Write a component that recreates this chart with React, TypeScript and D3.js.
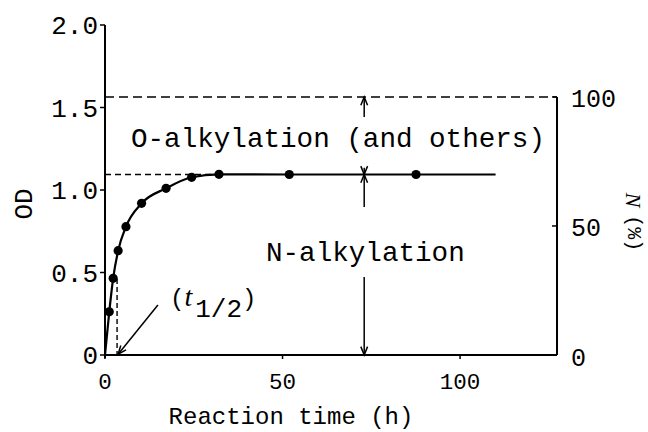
import React from 'react';
import * as d3 from 'd3';

// ---- data ----
const timeH = [1.2, 2.3, 3.7, 5.9, 10.3, 17.2, 24.4, 32.1, 51.9, 87.6];
const odValues = [0.262, 0.465, 0.632, 0.778, 0.919, 1.01, 1.077, 1.095, 1.094, 1.094];
const curveStart = { t: 0, od: 0 };
const curveEnd = { t: 110, od: 1.094 };
const odTicks = [0, 0.5, 1.0, 1.5, 2.0];
const odTickLabels = ['0', '0.5', '1.0', '1.5', '2.0'];
const timeTicks = [0, 50, 100];
const nTicks = [0, 50, 100];
const odTotal = 1.564; // OD corresponding to N = 100 %
const odPlateau = 1.094;
const tHalf = 3.4;
const tHalfTop = 0.46;
const tArrowLine = 73;
const tMax = 127.3;
// annotation arrow (t1/2) from label to axis
const halfArrowFrom = { t: 14.9, od: 0.303 };
const halfArrowTo = { t: 3.7, od: 0.005 };
// vertical double arrows, segments in OD units (gaps for labels)
const upperArrowTopEnd = 1.442;
const upperArrowBottomStart = 1.135;
const lowerArrowTopEnd = 0.897;
const lowerArrowBottomStart = 0.473;

const FONT = "'Liberation Mono', 'Courier New', monospace";

function arrowHead(x: number, y: number, angleDeg: number, len = 9, half = 22) {
  const a = (angleDeg * Math.PI) / 180;
  const h = (half * Math.PI) / 180;
  const x1 = x - len * Math.cos(a - h);
  const y1 = y - len * Math.sin(a - h);
  const x2 = x - len * Math.cos(a + h);
  const y2 = y - len * Math.sin(a + h);
  return `M${x1},${y1}L${x},${y}L${x2},${y2}`;
}

export default function App() {
  const W = 648;
  const H = 432;
  const x = d3.scaleLinear().domain([0, tMax]).range([105, 557]);
  const y = d3.scaleLinear().domain([0, 2]).range([355, 25]);
  const yN = d3.scaleLinear().domain([0, 100]).range([y(0), y(odTotal)]);

  const pts = timeH.map((t, i) => ({ t, od: odValues[i] }));
  const linePts = [curveStart, ...pts, curveEnd];
  const line = d3
    .line<{ t: number; od: number }>()
    .x((d) => x(d.t))
    .y((d) => y(d.od))
    .curve(d3.curveMonotoneX);

  const xa = x(tArrowLine);
  const hx1 = x(halfArrowFrom.t), hy1 = y(halfArrowFrom.od);
  const hx2 = x(halfArrowTo.t), hy2 = y(halfArrowTo.od);
  const halfAngle = (Math.atan2(hy2 - hy1, hx2 - hx1) * 180) / Math.PI;

  const stroke = '#000';

  return (
    <svg
      width={W}
      height={H}
      viewBox={`0 0 ${W} ${H}`}
      style={{ position: 'absolute', left: 0, top: 0, background: '#fff' }}
    >
      <rect x={0} y={0} width={W} height={H} fill="#fff" />
      {/* left axis */}
      <line x1={x(0)} x2={x(0)} y1={y(2)} y2={y(0) + 3} stroke={stroke} strokeWidth={2} />
      {odTicks.map((v, i) => (
        <g key={'ly' + i}>
          <line x1={x(0) - 5} x2={x(0)} y1={y(v)} y2={y(v)} stroke={stroke} strokeWidth={1.5} />
          <text
            x={x(0) - 7}
            y={y(v) + 2}
            textAnchor="end"
            dominantBaseline="central"
            fontFamily={FONT}
            fontSize={26}
          >
            {odTickLabels[i]}
          </text>
        </g>
      ))}
      {/* bottom axis */}
      <line x1={x(0)} x2={x(tMax)} y1={y(0)} y2={y(0)} stroke={stroke} strokeWidth={2} />
      {timeTicks.map((v) => (
        <g key={'tx' + v}>
          <line x1={x(v)} x2={x(v)} y1={y(0)} y2={y(0) + 4} stroke={stroke} strokeWidth={1.5} />
          <text x={x(v)} y={y(0) + 34} textAnchor="middle" fontFamily={FONT} fontSize={22.5}>
            {v}
          </text>
        </g>
      ))}
      {/* right axis */}
      <line x1={x(tMax)} x2={x(tMax)} y1={yN(100)} y2={yN(0)} stroke={stroke} strokeWidth={2} />
      {nTicks.map((v) => (
        <g key={'rn' + v}>
          <line x1={x(tMax) - 5} x2={x(tMax)} y1={yN(v)} y2={yN(v)} stroke={stroke} strokeWidth={1.5} />
          <text
            x={x(tMax) + 14}
            y={yN(v) + 4}
            textAnchor="start"
            dominantBaseline="central"
            fontFamily={FONT}
            fontSize={25}
          >
            {v}
          </text>
        </g>
      ))}
      {/* dashed reference lines */}
      <line
        x1={x(0)}
        x2={x(tMax)}
        y1={y(odTotal)}
        y2={y(odTotal)}
        stroke={stroke}
        strokeWidth={1.6}
        strokeDasharray="9,5"
      />
      <line
        x1={x(0)}
        x2={x(timeH[7])}
        y1={y(odPlateau)}
        y2={y(odPlateau)}
        stroke={stroke}
        strokeWidth={1.4}
        strokeDasharray="6,4"
      />
      <line
        x1={x(tHalf)}
        x2={x(tHalf)}
        y1={y(tHalfTop)}
        y2={y(0)}
        stroke={stroke}
        strokeWidth={1.4}
        strokeDasharray="5,3"
      />
      {/* curve */}
      <path d={line(linePts) || ''} fill="none" stroke={stroke} strokeWidth={2.2} />
      {pts.map((p, i) => (
        <circle key={'p' + i} cx={x(p.t)} cy={y(p.od)} r={4.6} fill={stroke} />
      ))}
      {/* vertical double arrows */}
      <g stroke={stroke} strokeWidth={1.5} fill="none">
        <line x1={xa} x2={xa} y1={y(odTotal)} y2={y(upperArrowTopEnd)} />
        <path d={arrowHead(xa, y(odTotal), -90)} />
        <line x1={xa} x2={xa} y1={y(upperArrowBottomStart)} y2={y(odPlateau)} />
        <path d={arrowHead(xa, y(odPlateau), 90)} />
        <line x1={xa} x2={xa} y1={y(odPlateau)} y2={y(lowerArrowTopEnd)} />
        <path d={arrowHead(xa, y(odPlateau), -90)} />
        <line x1={xa} x2={xa} y1={y(lowerArrowBottomStart)} y2={y(0)} />
        <path d={arrowHead(xa, y(0), 90)} />
        <line x1={hx1} y1={hy1} x2={hx2} y2={hy2} />
        <path d={arrowHead(hx2, hy2, halfAngle)} />
      </g>
      {/* annotations */}
      <text x={131} y={147} fontFamily={FONT} fontSize={27.6}>
        O-alkylation (and others)
      </text>
      <text x={266} y={261} fontFamily={FONT} fontSize={27.6}>
        N-alkylation
      </text>
      <text x={170} y={306} fontFamily={FONT} fontSize={24}>
        <tspan>(</tspan>
        <tspan fontStyle="italic" fontFamily="'Liberation Serif', serif" fontSize={28}>
          t
        </tspan>
        <tspan dx={3} dy={11} fontSize={26}>1/2</tspan>
        <tspan dy={-11}>)</tspan>
      </text>
      {/* axis titles */}
      <text x={291} y={424} textAnchor="middle" fontFamily={FONT} fontSize={24}>
        Reaction time (h)
      </text>
      <text
        transform={`translate(25,${204}) rotate(-90)`}
        textAnchor="middle"
        dominantBaseline="central"
        fontFamily={FONT}
        fontSize={26}
      >
        OD
      </text>
      <text
        transform={`translate(634,${222}) rotate(90)`}
        textAnchor="middle"
        dominantBaseline="central"
        fontFamily={FONT}
        fontSize={20}
      >
        <tspan fontStyle="italic" fontFamily="'Liberation Serif', serif" fontSize={22}>
          N
        </tspan>
        <tspan dx={8}>(%)</tspan>
      </text>
    </svg>
  );
}
